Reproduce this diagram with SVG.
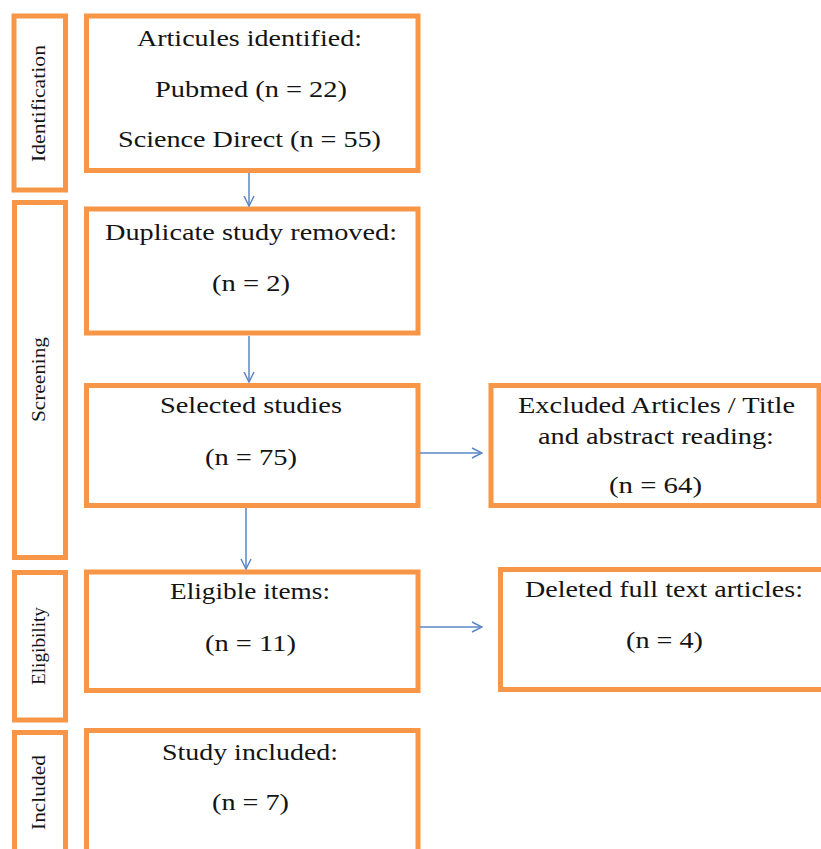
<svg xmlns="http://www.w3.org/2000/svg" width="821" height="849" viewBox="0 0 821 849">
<style>
.box{fill:#fff;stroke:#F79646;stroke-width:5}
.t{font-family:"Liberation Serif","Times New Roman",serif;font-size:23px;fill:#141414;text-anchor:middle}
.s{font-family:"Liberation Serif","Times New Roman",serif;font-size:18px;fill:#141414;text-anchor:middle}
.c{fill:none;stroke:#5B86C5;stroke-width:1.5}
</style>
<defs>
<marker id="ah" viewBox="0 0 12 12" refX="11" refY="6" markerWidth="12" markerHeight="12" markerUnits="userSpaceOnUse" orient="auto">
<path d="M1,1 L11,6 L1,11" fill="none" stroke="#5B86C5" stroke-width="1.5"/>
</marker>
</defs>
<rect width="821" height="849" fill="#fff"/>
<g id="stage-identification"><rect class="box" x="14" y="16" width="51.5" height="174"/><text class="s" transform="translate(45,103.5) rotate(-90)" textLength="117" lengthAdjust="spacingAndGlyphs">Identification</text></g>
<g id="stage-screening"><rect class="box" x="14.5" y="202.5" width="51" height="355"/><text class="s" transform="translate(45,379.5) rotate(-90)" textLength="85" lengthAdjust="spacingAndGlyphs">Screening</text></g>
<g id="stage-eligibility"><rect class="box" x="14.5" y="572.5" width="51" height="147.5"/><text class="s" transform="translate(45,646) rotate(-90)" textLength="78" lengthAdjust="spacingAndGlyphs">Eligibility</text></g>
<g id="stage-included"><rect class="box" x="14.5" y="732.5" width="51" height="130"/><text class="s" transform="translate(45,792.5) rotate(-90)" textLength="75" lengthAdjust="spacingAndGlyphs">Included</text></g>
<g id="identified"><rect class="box" x="86.5" y="16" width="331.5" height="154.5"/><text class="t" x="249.5" y="46" textLength="225" lengthAdjust="spacingAndGlyphs">Articules identified:</text><text class="t" x="251" y="97" textLength="192" lengthAdjust="spacingAndGlyphs">Pubmed (n = 22)</text><text class="t" x="249.5" y="147" textLength="263" lengthAdjust="spacingAndGlyphs">Science Direct (n = 55)</text></g>
<g id="duplicates"><rect class="box" x="86.5" y="209" width="331.5" height="124"/><text class="t" x="251" y="240" textLength="292" lengthAdjust="spacingAndGlyphs">Duplicate study removed:</text><text class="t" x="251" y="291" textLength="78" lengthAdjust="spacingAndGlyphs">(n = 2)</text></g>
<g id="selected"><rect class="box" x="86.5" y="385.5" width="331.5" height="120"/><text class="t" x="251" y="413" textLength="182" lengthAdjust="spacingAndGlyphs">Selected studies</text><text class="t" x="251" y="465" textLength="92" lengthAdjust="spacingAndGlyphs">(n = 75)</text></g>
<g id="excluded"><rect class="box" x="491" y="385.5" width="328" height="120"/><text class="t" x="656.5" y="413" textLength="277" lengthAdjust="spacingAndGlyphs">Excluded Articles / Title</text><text class="t" x="656" y="444" textLength="236" lengthAdjust="spacingAndGlyphs">and abstract reading:</text><text class="t" x="655.5" y="493" textLength="93" lengthAdjust="spacingAndGlyphs">(n = 64)</text></g>
<g id="eligible"><rect class="box" x="86.5" y="572" width="331.5" height="118.5"/><text class="t" x="250" y="599" textLength="160" lengthAdjust="spacingAndGlyphs">Eligible items:</text><text class="t" x="250.5" y="651" textLength="91" lengthAdjust="spacingAndGlyphs">(n = 11)</text></g>
<g id="deleted"><rect class="box" x="500.5" y="569.5" width="330" height="120"/><text class="t" x="664" y="597" textLength="278" lengthAdjust="spacingAndGlyphs">Deleted full text articles:</text><text class="t" x="664.5" y="648" textLength="77" lengthAdjust="spacingAndGlyphs">(n = 4)</text></g>
<g id="included"><rect class="box" x="86.5" y="730.5" width="331.5" height="130"/><text class="t" x="250" y="760" textLength="176" lengthAdjust="spacingAndGlyphs">Study included:</text><text class="t" x="250.5" y="810" textLength="77" lengthAdjust="spacingAndGlyphs">(n = 7)</text></g>
<g id="connectors">
<line class="c" x1="249" y1="173" x2="249" y2="206" marker-end="url(#ah)"/>
<line class="c" x1="249" y1="336" x2="249" y2="382" marker-end="url(#ah)"/>
<line class="c" x1="246" y1="508" x2="246" y2="569" marker-end="url(#ah)"/>
<line class="c" x1="420" y1="453" x2="482" y2="453" marker-end="url(#ah)"/>
<line class="c" x1="420" y1="627" x2="482" y2="627" marker-end="url(#ah)"/>
</g>
</svg>
